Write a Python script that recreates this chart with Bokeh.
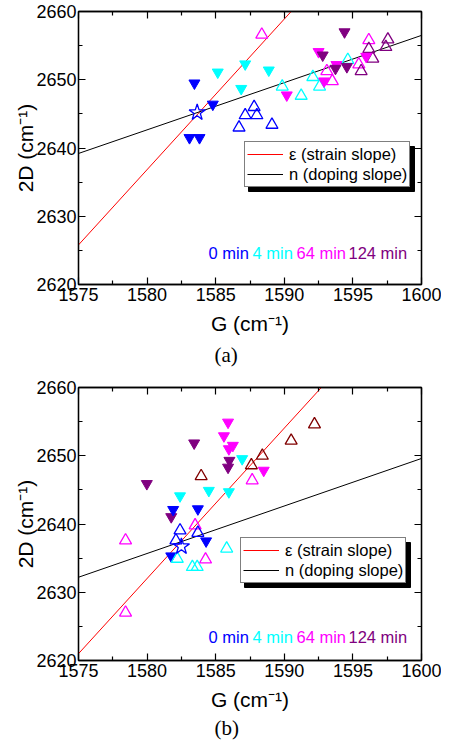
from bokeh.plotting import figure
from bokeh.models import (Range1d, LinearAxis, FixedTicker, Legend, LegendItem,
                          Label, BoxAnnotation, Title)
from bokeh.layouts import column
from bokeh.embed import file_html
from bokeh.resources import INLINE

FONT = "Liberation Sans"
SERIF = "Liberation Serif"

# ---------------- axes / ticks ----------------
x_ticks = [1575, 1580, 1585, 1590, 1595, 1600]
x_minor = [1577.5, 1582.5, 1587.5, 1592.5, 1597.5]
y_ticks = [2620, 2630, 2640, 2650, 2660]
y_minor = [2625, 2635, 2645, 2655]

time_labels = ["0 min", "4 min", "64 min", "124 min"]
time_colors = ["#0000FF", "#00FFFF", "#FF00FF", "#800080"]

BLUE, CYAN, MAG, PUR, MAR = "#0000FF", "#00FFFF", "#FF00FF", "#800080", "#800000"

# ---------------- panel (a) data ----------------
a_blue_f_x = [1583.45, 1584.79, 1583.09, 1583.82]
a_blue_f_y = [2649.5, 2646.4, 2641.5, 2641.5]
a_blue_o_x = [1586.7, 1587.15, 1587.8, 1588.0, 1589.1]
a_blue_o_y = [2643.0, 2644.8, 2646.0, 2644.8, 2643.4]
a_cyan_f_x = [1585.15, 1587.15, 1586.86, 1588.87]
a_cyan_f_y = [2651.1, 2652.3, 2648.7, 2651.4]
a_cyan_o_x = [1589.85, 1591.23, 1592.08, 1592.57, 1594.63]
a_cyan_o_y = [2649.0, 2647.65, 2650.4, 2649.0, 2652.9]
a_mag_f_x = [1590.18, 1592.5, 1593.8, 1592.9, 1595.97]
a_mag_f_y = [2647.75, 2654.1, 2652.2, 2649.8, 2653.4]
a_mag_o_x = [1588.36, 1593.1, 1593.5, 1595.43, 1596.16]
a_mag_o_y = [2656.6, 2651.26, 2649.8, 2652.24, 2655.8]
a_pur_f_x = [1594.39, 1592.8, 1593.73, 1594.56]
a_pur_f_y = [2657.0, 2653.6, 2651.65, 2651.9]
a_pur_o_x = [1596.16, 1596.45, 1595.6, 1597.55, 1597.4]
a_pur_o_y = [2654.5, 2653.1, 2651.26, 2655.9, 2654.8]
a_star_x = [1583.65]
a_star_y = [2645.2]
a_strain_x = [1575, 1590.5]
a_strain_y = [2625.8, 2660.0]
a_doping_x = [1575, 1600]
a_doping_y = [2639.2, 2656.5]

# ---------------- panel (b) data ----------------
b_blue_f_x = [1581.9, 1583.7, 1584.3, 1581.76]
b_blue_f_y = [2642.1, 2642.2, 2637.5, 2635.3]
b_blue_o_x = [1582.4, 1582.1, 1583.7]
b_blue_o_y = [2639.06, 2637.6, 2638.7]
b_cyan_f_x = [1582.4, 1584.5, 1585.96, 1586.93]
b_cyan_f_y = [2644.1, 2644.9, 2644.7, 2649.55]
b_cyan_o_x = [1582.2, 1583.3, 1583.65, 1585.8]
b_cyan_o_y = [2634.9, 2633.7, 2633.7, 2636.4]
b_mag_f_x = [1585.9, 1585.6, 1586.25, 1585.96, 1588.5]
b_mag_f_y = [2654.9, 2652.9, 2651.5, 2651.0, 2647.85]
b_mag_o_x = [1578.43, 1583.5, 1584.26, 1578.43, 1587.66]
b_mag_o_y = [2637.6, 2639.8, 2634.8, 2627.0, 2646.4]
b_pur_f_x = [1579.98, 1583.43, 1581.76, 1586.0, 1585.9]
b_pur_f_y = [2645.9, 2651.85, 2641.05, 2649.3, 2648.3]
b_mar_o_x = [1583.94, 1587.6, 1588.4, 1590.5, 1592.2]
b_mar_o_y = [2647.0, 2648.6, 2650.0, 2652.2, 2654.6]
b_star_x = [1582.5]
b_star_y = [2636.7]
b_strain_x = [1575, 1592.7]
b_strain_y = [2621.0, 2660.0]
b_doping_x = [1575, 1600]
b_doping_y = [2632.2, 2649.6]

FW, FH = 343, 273
X0, X1, Y0, Y1 = 1575, 1600, 2620, 2660


def px_x(off):
    return X0 + off * (X1 - X0) / FW


def px_y(off):
    return Y0 + off * (Y1 - Y0) / FH


def style_axis(ax, ticks, minor, labels=True):
    ax.ticker = FixedTicker(ticks=ticks, minor_ticks=minor)
    ax.axis_line_color = "black"
    ax.axis_line_width = 1.3
    ax.major_tick_in = 7
    ax.major_tick_out = 0
    ax.minor_tick_in = 4
    ax.minor_tick_out = 0
    ax.major_tick_line_color = "black"
    ax.minor_tick_line_color = "black"
    ax.major_tick_line_width = 1.2
    ax.minor_tick_line_width = 1.2
    if labels:
        ax.major_label_text_font = FONT
        ax.major_label_text_font_size = "18px"
        ax.major_label_text_color = "black"
        ax.axis_label_text_font = FONT
        ax.axis_label_text_font_size = "21px"
        ax.axis_label_text_font_style = "normal"
        ax.axis_label_text_color = "black"
    else:
        ax.major_label_overrides = {t: "" for t in ticks}
        ax.major_label_text_font_size = "1px"
        ax.major_label_standoff = 0


def make_panel(series, star, strain, doping, tag, leg_off, lab_y, top_b, bot_b, tag_standoff):
    p = figure(frame_width=FW, frame_height=FH, output_backend="svg",
               toolbar_location=None, x_range=Range1d(X0, X1),
               y_range=Range1d(Y0, Y1), min_border_left=78,
               min_border_right=20, min_border_top=top_b,
               min_border_bottom=bot_b)
    p.grid.visible = False
    p.outline_line_color = "black"
    p.outline_line_width = 1.3
    p.background_fill_color = "white"
    p.border_fill_color = "white"

    style_axis(p.xaxis[0], x_ticks, x_minor)
    style_axis(p.yaxis[0], y_ticks, y_minor)
    p.xaxis[0].axis_label = "G (cm\u207b\u00b9)"
    p.yaxis[0].axis_label = "2D (cm\u207b\u00b9)"
    p.xaxis[0].major_label_standoff = 3
    p.yaxis[0].major_label_standoff = 2
    p.xaxis[0].axis_label_standoff = 8
    p.yaxis[0].axis_label_standoff = -4

    top = LinearAxis()
    style_axis(top, x_ticks, x_minor, labels=False)
    p.add_layout(top, "above")
    right = LinearAxis()
    style_axis(right, y_ticks, y_minor, labels=False)
    p.add_layout(right, "right")

    r_strain = p.line(strain[0], strain[1], line_color="#FF0000", line_width=1)
    r_dop = p.line(doping[0], doping[1], line_color="black", line_width=1)

    for (xs, ys, marker, color, filled) in series:
        if filled:
            p.scatter(xs, ys, marker=marker, size=11, fill_color=color,
                      line_color=color, line_width=1)
        else:
            p.scatter(xs, ys, marker=marker, size=12, fill_color=None,
                      line_color=color, line_width=1.3)
    p.scatter(star[0], star[1], marker="star", size=17, fill_color=None,
              line_color=BLUE, line_width=1.3)

    # legend shadow
    L, B, W, H = leg_off[0], leg_off[1], 166, 45
    p.add_layout(BoxAnnotation(left=px_x(L + 4), right=px_x(L + W + 4),
                               bottom=px_y(B - 4), top=px_y(B + H - 4),
                               fill_color="black", fill_alpha=1,
                               line_color="black", line_alpha=1, level="annotation"))
    leg = Legend(items=[LegendItem(label="\u03b5 (strain slope)", renderers=[r_strain]),
                        LegendItem(label="n (doping slope)", renderers=[r_dop])],
                 location=(L, B), orientation="vertical")
    leg.label_text_font = FONT
    leg.label_text_font_size = "16.5px"
    leg.label_text_color = "black"
    leg.glyph_width = 36
    leg.glyph_height = 20
    leg.label_height = 20
    leg.label_standoff = 6
    leg.spacing = 0
    leg.padding = 2
    leg.margin = 0
    leg.border_line_color = "black"
    leg.border_line_width = 1
    leg.background_fill_color = "white"
    leg.background_fill_alpha = 1
    p.add_layout(leg, "center")

    lx = [1584.48, 1587.68, 1590.89, 1594.68]
    for t, c, x in zip(time_labels, time_colors, lx):
        p.add_layout(Label(x=x, y=lab_y, text=t, text_color=c, text_font=FONT,
                           text_font_size="16.5px", text_baseline="middle"))

    p.add_layout(Title(text=tag, align="left", offset=136, text_font=SERIF,
                       text_font_size="21px", text_font_style="normal",
                       text_color="black", standoff=tag_standoff), "below")
    return p


series_a = [
    (a_blue_f_x, a_blue_f_y, "inverted_triangle", BLUE, True),
    (a_cyan_f_x, a_cyan_f_y, "inverted_triangle", CYAN, True),
    (a_blue_o_x, a_blue_o_y, "triangle", BLUE, False),
    (a_cyan_o_x, a_cyan_o_y, "triangle", CYAN, False),
    (a_mag_o_x, a_mag_o_y, "triangle", MAG, False),
    (a_pur_o_x, a_pur_o_y, "triangle", PUR, False),
    (a_mag_f_x, a_mag_f_y, "inverted_triangle", MAG, True),
    (a_pur_f_x, a_pur_f_y, "inverted_triangle", PUR, True),
]
series_b = [
    (b_pur_f_x, b_pur_f_y, "inverted_triangle", PUR, True),
    (b_mag_f_x, b_mag_f_y, "inverted_triangle", MAG, True),
    (b_cyan_f_x, b_cyan_f_y, "inverted_triangle", CYAN, True),
    (b_blue_f_x, b_blue_f_y, "inverted_triangle", BLUE, True),
    (b_mar_o_x, b_mar_o_y, "triangle", MAR, False),
    (b_mag_o_x, b_mag_o_y, "triangle", MAG, False),
    (b_cyan_o_x, b_cyan_o_y, "triangle", CYAN, False),
    (b_blue_o_x, b_blue_o_y, "triangle", BLUE, False),
]

pa = make_panel(series_a, (a_star_x, a_star_y), (a_strain_x, a_strain_y),
                (a_doping_x, a_doping_y), "(a)", (166, 97), 2624.57, 11, 92, 6)
pb = make_panel(series_b, (b_star_x, b_star_y), (b_strain_x, b_strain_y),
                (b_doping_x, b_doping_y), "(b)", (162, 77), 2623.4, 11, 77, 1)

layout = column(pa, pb, spacing=0)
open("out.html", "w").write(file_html(layout, INLINE))
